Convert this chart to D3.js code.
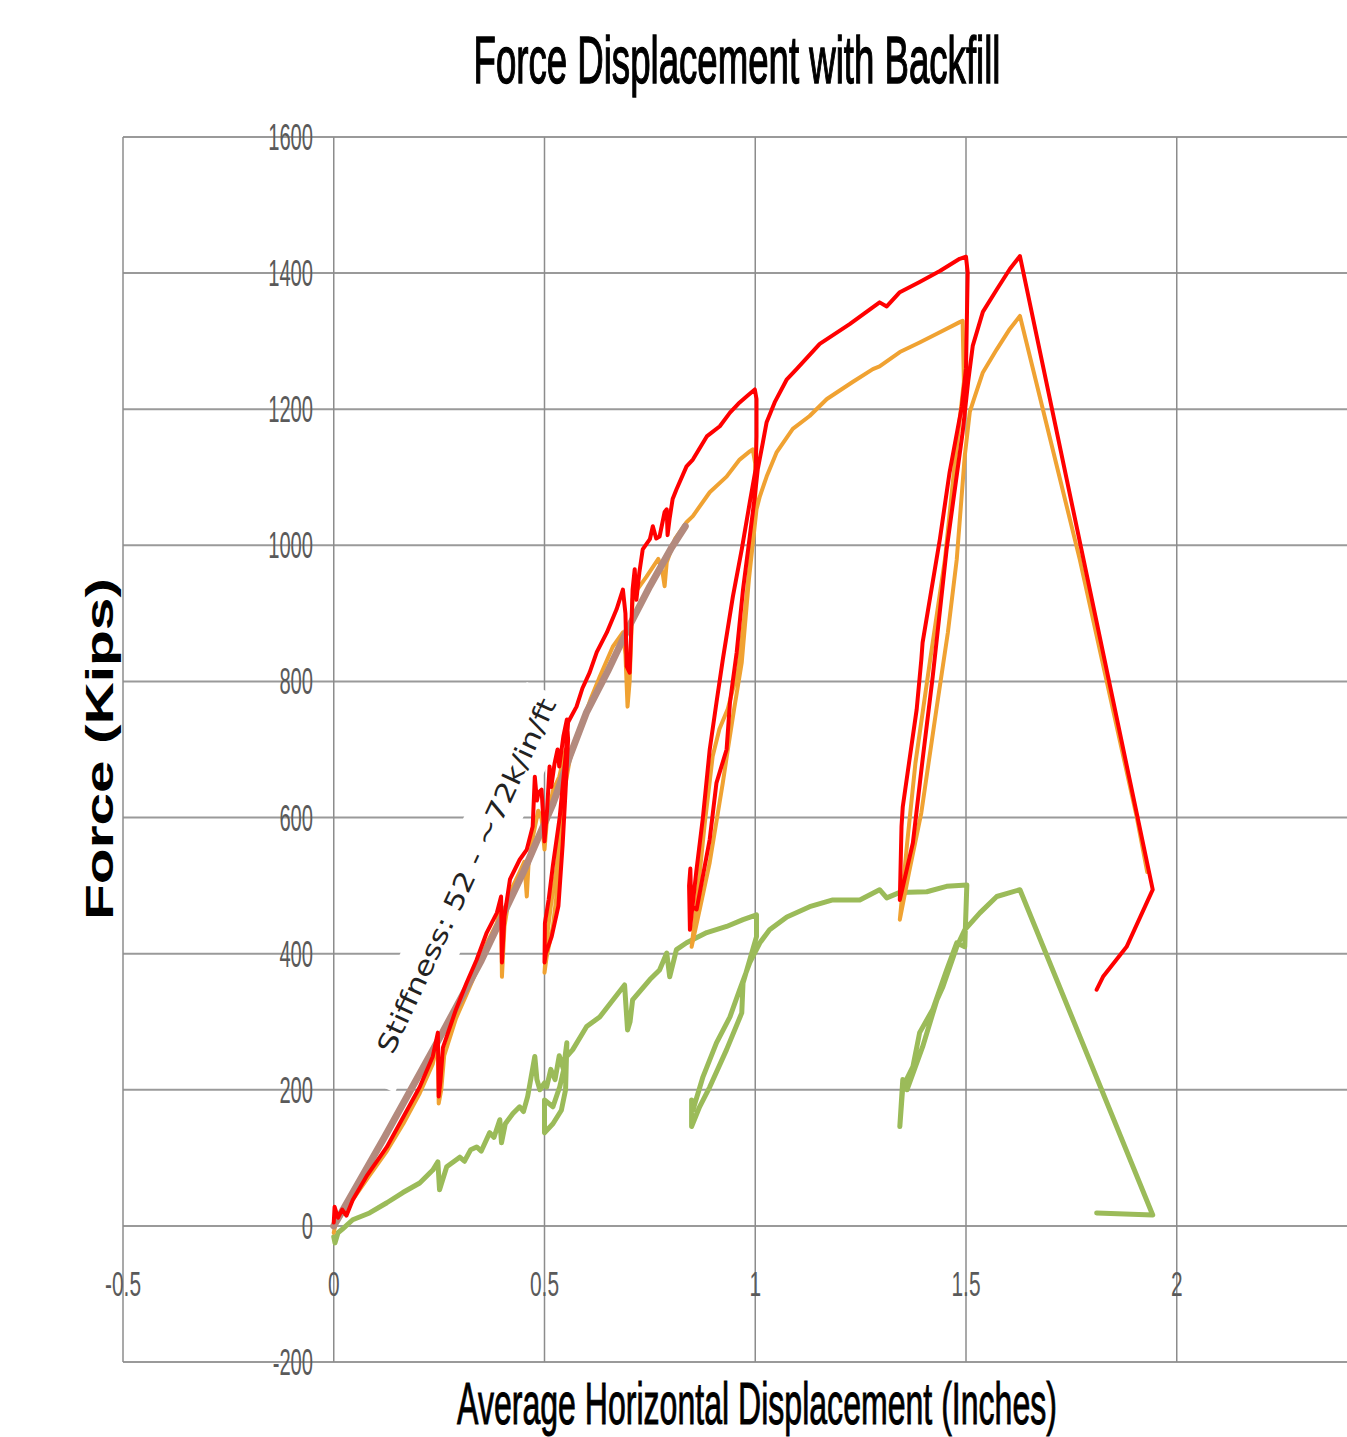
<!DOCTYPE html>
<html>
<head>
<meta charset="utf-8">
<script src="https://cdnjs.cloudflare.com/ajax/libs/d3/7.8.5/d3.min.js"></script>
<style>
  html, body { margin: 0; padding: 0; background: #fff; }
  svg { display: block; }
</style>
</head>
<body>
<svg id="chart" width="1347" height="1437"></svg>
<script>
const xTicks = [-0.5, 0, 0.5, 1, 1.5, 2];
const xTickLabels = ['-0.5', '0', '0.5', '1', '1.5', '2'];
const yTicks = [-200, 0, 200, 400, 600, 800, 1000, 1200, 1400, 1600];

// displacement (in), force (kips)
const redPts = [
  [0, 5], [0.002, 28], [0.01, 12], [0.02, 24], [0.03, 15], [0.045, 38], [0.08, 75],
  [0.126, 116], [0.165, 160], [0.204, 204], [0.235, 249], [0.247, 284], [0.249, 190],
  [0.253, 212], [0.259, 262], [0.29, 318], [0.315, 357], [0.339, 391], [0.363, 431],
  [0.387, 460], [0.397, 484], [0.399, 387], [0.405, 455], [0.418, 509], [0.441, 538],
  [0.458, 553], [0.472, 587], [0.477, 660], [0.482, 625], [0.486, 637], [0.493, 641],
  [0.497, 600], [0.5, 565], [0.506, 610], [0.512, 675], [0.516, 645], [0.524, 680],
  [0.531, 700], [0.535, 675], [0.545, 720], [0.553, 744], [0.556, 715], [0.55, 640],
  [0.543, 560], [0.533, 470], [0.517, 425], [0.503, 400], [0.5, 387], [0.501, 445],
  [0.51, 480], [0.52, 530], [0.536, 600], [0.55, 690], [0.556, 740], [0.576, 763],
  [0.59, 790], [0.607, 813], [0.624, 843], [0.648, 872], [0.671, 906], [0.686, 935],
  [0.692, 900], [0.695, 822], [0.702, 813], [0.706, 880], [0.709, 935], [0.714, 965],
  [0.718, 920], [0.725, 960], [0.733, 994], [0.75, 1009], [0.757, 1028], [0.765, 1010],
  [0.773, 1013], [0.785, 1049], [0.79, 1053], [0.792, 1015], [0.797, 1040], [0.804, 1068],
  [0.813, 1082], [0.837, 1116], [0.852, 1126], [0.885, 1160], [0.916, 1175], [0.94, 1195],
  [0.963, 1210], [0.98, 1219], [0.999, 1229], [1.003, 1215], [1.003, 1160], [1.001, 1112],
  [0.987, 1063], [0.968, 994], [0.947, 925], [0.923, 832], [0.908, 769], [0.892, 700],
  [0.876, 601], [0.86, 520], [0.845, 435], [0.843, 500], [0.846, 525], [0.848, 470],
  [0.861, 465], [0.892, 568], [0.908, 651], [0.932, 700], [0.94, 769], [0.956, 843],
  [0.971, 935], [0.987, 1013], [0.999, 1072], [1.006, 1112], [1.018, 1151], [1.027, 1181],
  [1.046, 1210], [1.075, 1244], [1.098, 1259], [1.153, 1296], [1.224, 1325], [1.295, 1357],
  [1.312, 1351], [1.343, 1372], [1.39, 1387], [1.438, 1403], [1.485, 1421], [1.5, 1424],
  [1.504, 1401], [1.502, 1330], [1.5, 1260], [1.49, 1204], [1.461, 1107], [1.438, 1009],
  [1.397, 857], [1.394, 832], [1.383, 759], [1.35, 616], [1.347, 587], [1.343, 479],
  [1.374, 563], [1.397, 685], [1.421, 807], [1.454, 994], [1.492, 1166], [1.505, 1240],
  [1.516, 1293], [1.54, 1343], [1.573, 1376], [1.604, 1406], [1.628, 1425], [1.943, 494],
  [1.881, 410], [1.825, 366], [1.81, 347]
];

const orangePts = [
  [0, -10], [0.005, 5], [0.03, 25], [0.08, 70], [0.126, 110], [0.165, 150], [0.204, 195],
  [0.235, 238], [0.247, 270], [0.249, 180], [0.255, 200], [0.262, 250], [0.29, 305],
  [0.315, 340], [0.339, 375], [0.363, 415], [0.387, 445], [0.397, 470], [0.399, 366],
  [0.405, 440], [0.418, 490], [0.441, 520], [0.452, 535], [0.458, 484], [0.462, 530],
  [0.472, 570], [0.485, 610], [0.493, 600], [0.5, 553], [0.505, 590], [0.52, 640],
  [0.535, 660], [0.55, 700], [0.545, 620], [0.535, 520], [0.52, 440], [0.505, 395],
  [0.5, 372], [0.505, 420], [0.515, 470], [0.529, 528], [0.543, 626], [0.56, 685],
  [0.584, 729], [0.61, 775], [0.631, 807], [0.662, 851], [0.686, 872], [0.692, 840],
  [0.697, 763], [0.702, 800], [0.709, 921], [0.72, 935], [0.742, 954], [0.77, 980],
  [0.78, 960], [0.785, 940], [0.79, 975], [0.81, 1010], [0.837, 1034], [0.852, 1043],
  [0.892, 1078], [0.932, 1101], [0.963, 1126], [0.987, 1138], [0.994, 1141], [1.0, 1120],
  [1.0, 1063], [0.99, 990], [0.975, 900], [0.96, 820], [0.935, 760], [0.915, 730],
  [0.899, 690], [0.88, 590], [0.861, 475], [0.849, 410], [0.87, 470], [0.892, 534],
  [0.923, 651], [0.935, 700], [0.95, 760], [0.968, 828], [0.985, 950], [1.003, 1053],
  [1.011, 1072], [1.027, 1101], [1.051, 1137], [1.089, 1171], [1.129, 1190], [1.17, 1215],
  [1.231, 1240], [1.279, 1259], [1.295, 1263], [1.343, 1284], [1.39, 1298], [1.438, 1313],
  [1.485, 1328], [1.492, 1330], [1.493, 1298], [1.495, 1240], [1.47, 1100], [1.45, 979],
  [1.415, 832], [1.38, 680], [1.36, 560], [1.343, 450], [1.365, 520], [1.394, 607],
  [1.43, 760], [1.457, 872], [1.478, 979], [1.497, 1131], [1.509, 1196], [1.521, 1219],
  [1.54, 1254], [1.573, 1288], [1.604, 1318], [1.628, 1337], [1.77, 979], [1.905, 601],
  [1.93, 520]
];

const greenPts = [
  [0, -16], [0.003, -25], [0.01, -10], [0.02, -5], [0.045, 9], [0.085, 19], [0.126, 34],
  [0.164, 49], [0.204, 63], [0.235, 82], [0.247, 94], [0.251, 53], [0.268, 87],
  [0.299, 101], [0.31, 95], [0.325, 112], [0.339, 116], [0.35, 110], [0.37, 137],
  [0.38, 130], [0.394, 156], [0.398, 122], [0.407, 150], [0.425, 165], [0.441, 175],
  [0.45, 168], [0.46, 190], [0.477, 249], [0.482, 215], [0.489, 200],
  [0.5, 210], [0.505, 204], [0.515, 230], [0.525, 215], [0.535, 250], [0.545, 230],
  [0.553, 269], [0.55, 200], [0.54, 170], [0.52, 150], [0.5, 137], [0.5, 185],
  [0.52, 175], [0.536, 204], [0.553, 249], [0.567, 259], [0.6, 293], [0.631, 307],
  [0.66, 330], [0.69, 354], [0.697, 288], [0.703, 300], [0.709, 332], [0.75, 362],
  [0.773, 376], [0.79, 401], [0.797, 366], [0.813, 406], [0.837, 416], [0.885, 431],
  [0.932, 440], [0.971, 450], [1.003, 457], [1.003, 425], [0.971, 357], [0.968, 313],
  [0.932, 259], [0.892, 204], [0.868, 175], [0.849, 146], [0.849, 185], [0.852, 170],
  [0.876, 219], [0.908, 269], [0.94, 307], [0.963, 347], [0.987, 387], [1.011, 416],
  [1.034, 435], [1.075, 454], [1.129, 469], [1.184, 479], [1.248, 479], [1.295, 494],
  [1.312, 482], [1.343, 490], [1.407, 491], [1.454, 499], [1.502, 501], [1.497, 410],
  [1.478, 416], [1.454, 376], [1.421, 318], [1.39, 284], [1.374, 234], [1.35, 204],
  [1.343, 146], [1.35, 215], [1.36, 200], [1.397, 263], [1.431, 332], [1.445, 351],
  [1.478, 410], [1.497, 435], [1.533, 460], [1.573, 484], [1.628, 494], [1.943, 16],
  [1.81, 19]
];

const stiffnessPts = [
  [0, 0], [0.12, 130], [0.25, 275], [0.35, 390], [0.45, 520], [0.52, 620], [0.56, 690],
  [0.6, 755], [0.65, 815], [0.7, 880], [0.75, 940], [0.8, 995], [0.834, 1028]
];

const svg = d3.select('#chart');
const x = d3.scaleLinear().domain([-0.5, 2.5]).range([123, 123 + 3 * 421.5]);
const y = d3.scaleLinear().domain([-200, 1600]).range([1362, 137]);
const right = 1347;
const font = '"Liberation Sans", Arial, sans-serif';

// squeezed text: draws the label at natural width then scales the group horizontally
function fitText(parent, tx, ty, str, opts) {
  const g = parent.append('g').attr('transform', `translate(${tx},${ty})`);
  const t = g.append('text')
    .attr('text-anchor', opts.anchor || 'middle')
    .attr('dy', opts.dy || 0)
    .style('font-family', opts.family || font)
    .style('font-size', opts.size + 'px')
    .style('font-weight', opts.weight || 'normal')
    .style('fill', opts.fill || '#000')
    .text(str);
  if (opts.stroke) t.style('stroke', opts.fill || '#000').style('stroke-width', opts.stroke);
  const w = t.node().getComputedTextLength();
  const f = opts.width ? opts.width / w : opts.factor;
  g.attr('transform', `translate(${tx},${ty}) ${opts.rotate ? `rotate(${opts.rotate})` : ''} scale(${f},1)`);
  return g;
}

// grid
svg.append('g').selectAll('line').data(yTicks).enter().append('line')
  .attr('x1', 123).attr('x2', right)
  .attr('y1', d => y(d)).attr('y2', d => y(d))
  .attr('stroke', '#9a9a9a').attr('stroke-width', 2);

svg.append('g').selectAll('line').data(xTicks).enter().append('line')
  .attr('x1', d => x(d)).attr('x2', d => x(d))
  .attr('y1', y(1600)).attr('y2', y(-200))
  .attr('stroke', '#8c8c8c').attr('stroke-width', 1.5);

// tick labels
const labels = svg.append('g');
yTicks.forEach(d => {
  fitText(labels, 313, y(d), String(d), { anchor: 'end', dy: '0.36em', size: 36, fill: '#5a5a5a', factor: 0.56 });
});
xTicks.forEach((d, i) => {
  fitText(labels, x(d), 1296, xTickLabels[i], { anchor: 'middle', size: 36, fill: '#5a5a5a', factor: 0.58 });
});

// annotation with white box
const note = svg.append('g').attr('transform', 'translate(468,872) rotate(-65)');
note.append('rect')
  .attr('x', -231).attr('y', -27).attr('width', 428).attr('height', 54)
  .attr('fill', '#fff');
note.append('text')
  .attr('x', -4).attr('y', 0).attr('dy', '0.36em')
  .attr('text-anchor', 'middle')
  .attr('textLength', 388).attr('lengthAdjust', 'spacingAndGlyphs')
  .style('font-family', '"DejaVu Sans", Verdana, sans-serif')
  .style('font-size', '26px').style('fill', '#222')
  .text('Stiffness: 52 - ~72k/in/ft');

// series
const line = d3.line().x(d => x(d[0])).y(d => y(d[1]));
const series = [
  { pts: greenPts, color: '#9bbb59', w: 5 },
  { pts: orangePts, color: '#f0a232', w: 4 },
  { pts: stiffnessPts, color: '#b38a7e', w: 7 },
  { pts: redPts, color: '#ff0000', w: 4 }
];
series.forEach(s => {
  svg.append('path').datum(s.pts)
    .attr('d', line)
    .attr('fill', 'none')
    .attr('stroke', s.color)
    .attr('stroke-width', s.w)
    .attr('stroke-linejoin', 'round')
    .attr('stroke-linecap', 'round');
});

// titles
fitText(svg, 737, 83, 'Force Displacement with Backfill', { size: 66, width: 527, stroke: 1.4 });
fitText(svg, 757, 1424, 'Average Horizontal Displacement (Inches)', { size: 60, width: 600, stroke: 1 });
fitText(svg, 113, 749, 'Force (Kips)', { size: 38, weight: 'bold', width: 342, rotate: -90 });
</script>
</body>
</html>
